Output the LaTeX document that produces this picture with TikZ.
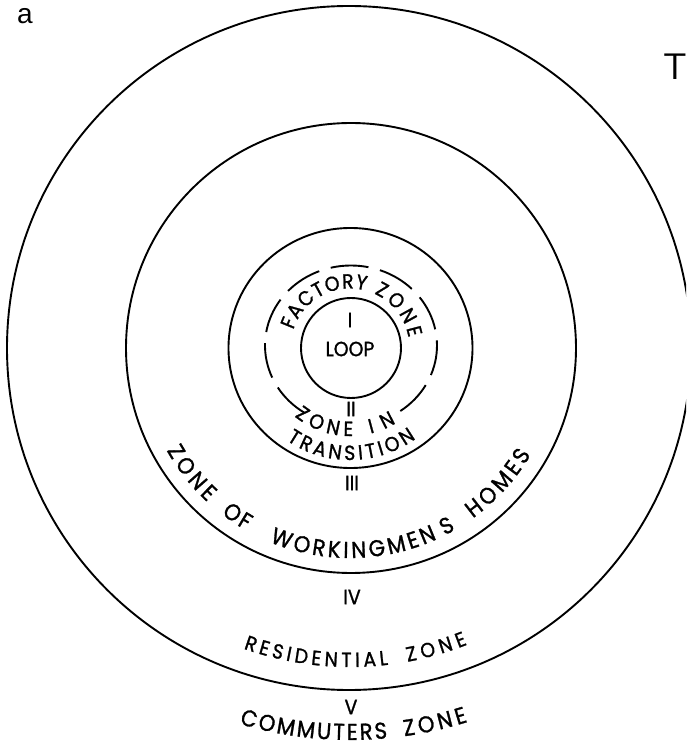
\documentclass[tikz,border=0pt]{standalone}
\usepackage{fontspec}
\usetikzlibrary{decorations.text}
\newfontfamily\zonefam{Poppins}[FakeStretch=0.92,FakeBold=1.2]
\newfontfamily\afam{Liberation Sans}
\newcommand\zsmall{\zonefam\fontsize{20.5pt}{20.5pt}\selectfont}
\newcommand\zbig{\zonefam\fontsize{23pt}{23pt}\selectfont}
% radius, start angle, end angle, font, text
\newcommand\arcword[5]{%
  \path[decorate,decoration={text along path,text={|#4|#5},text align={fit to path}}]
    (#2:#1) arc[start angle=#2,end angle=#3,radius=#1];}
\begin{document}
\begin{tikzpicture}[x=1pt,y=1pt,
  ring/.style={line width=1.9pt,black},
  lbl/.style={inner sep=0pt,font=\zsmall},
  lblbig/.style={inner sep=0pt,font=\zbig}]
\clip (-350,-401) rectangle (336,348);
% rings
\draw[ring] (-1,0) circle[radius=342];
\draw[ring] (1,0) circle[radius=225];
\draw[ring] (0.5,0) ellipse[x radius=122,y radius=120];
\draw[ring] (1,0) circle[radius=50];
% dashed ring (gap at the bottom for ZONE IN)
\foreach \a in {305,338.33,371.67,405,438.33,471.67,505,538.33,571.67}
  \draw[ring] (1,2.5) ++(\a:86 and 80) arc[start angle=\a,delta angle=25.33,x radius=86,y radius=80];
% straight labels
\node[lbl] (one) at (0,28) {I};
\node[lbl] (loop) at (0,-1) {LOOP};
\node[lbl] (two) at (1,-61) {II};
\node[lbl] (three) at (2,-135) {III};
\node[lbl] (four) at (2,-249) {IV};
\node[lbl] (five) at (1,-359) {V};
% curved labels
\arcword{59.5}{162.3}{74.6}{\zsmall}{FACTORY}
\arcword{59.5}{66}{10}{\zsmall}{ZONE}
\arcword{88}{231}{272}{\zsmall}{ZONE}
\arcword{88}{283.5}{301.5}{\zsmall}{IN}
\arcword{112}{235.5}{306}{\zsmall}{TRANSITION}
\arcword{210}{209.2}{227.2}{\zbig}{ZONE}
\arcword{210}{232.2}{240.3}{\zbig}{OF}
\arcword{210}{247.5}{294.5}{\zbig}{WORKINGMEN}
\node[lblbig,rotate=28.5] (ess) at (298.5:202) {S};
\arcword{210}{305.8}{329.5}{\zbig}{HOMES}
\arcword{319}{250.5}{276.9}{\zsmall}{RESIDENTIAL}
\arcword{319}{280.4}{291.6}{\zsmall}{ZONE}
\arcword{392}{253.6}{275.5}{\zbig}{COMMUTERS}
\arcword{392}{278}{287.5}{\zbig}{ZONE}
% corner marks
\node[inner sep=0pt] (alab) at (-325,332) {\afam\fontsize{28pt}{28pt}\selectfont a};
\node[inner sep=0pt] (tee) at (325,281) {\sffamily\fontsize{37pt}{37pt}\selectfont T};
\end{tikzpicture}
\end{document}
